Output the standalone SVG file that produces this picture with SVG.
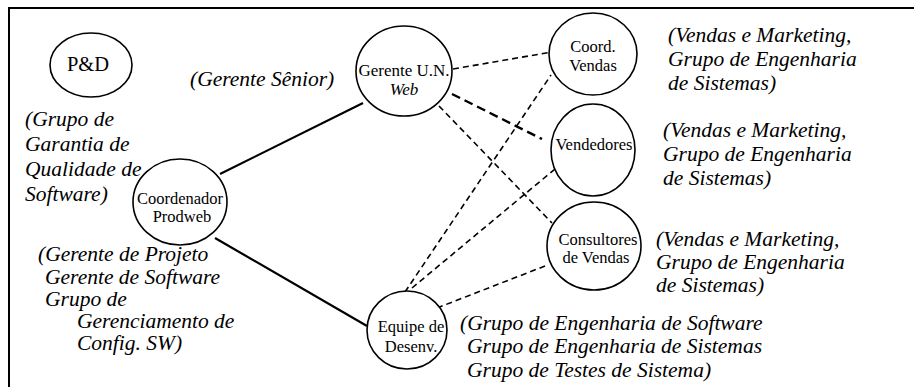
<svg xmlns="http://www.w3.org/2000/svg" width="914" height="387" viewBox="0 0 914 387">
<defs>
<style>
.node{fill:#fff;stroke:#000;stroke-width:1.6}
.solid{stroke:#000;stroke-width:2.2;fill:none}
.dash{stroke:#000;stroke-width:1.6;stroke-dasharray:6 4;fill:none}
.dash2{stroke:#000;stroke-width:2.4;stroke-dasharray:9 5;fill:none}
.lbl{font-family:"Liberation Serif",serif;font-size:16.5px;text-anchor:middle;fill:#000}
.note{font-family:"Liberation Serif",serif;font-size:21.5px;font-style:italic;fill:#000}
</style>
</defs>
<rect x="0" y="0" width="914" height="387" fill="#fff"/>
<rect x="9" y="8" width="920" height="400" fill="none" stroke="#000" stroke-width="2"/>
<g id="connectors">
<line class="solid" x1="220" y1="174" x2="363" y2="103"/>
<line class="solid" x1="215" y1="238" x2="367" y2="326"/>
<line class="dash" x1="453" y1="69" x2="552" y2="52"/>
<line class="dash2" x1="452" y1="94" x2="542" y2="139"/>
<line class="dash" x1="439" y1="106" x2="552" y2="223"/>
<line class="dash" x1="405" y1="292" x2="551" y2="75"/>
<line class="dash" x1="412" y1="288" x2="555" y2="169"/>
<line class="dash" x1="437" y1="308" x2="545" y2="266"/>
</g>
<g id="pd">
<ellipse class="node" cx="91" cy="65" rx="41" ry="32"/>
<text class="lbl" x="88" y="71" style="font-size:20.5px">P&#38;D</text>
</g>
<g id="coordenador">
<ellipse class="node" cx="180" cy="202" rx="47" ry="43"/>
<text class="lbl" x="180" y="204">Coordenador</text>
<text class="lbl" x="182" y="222">Prodweb</text>
</g>
<g id="gerente">
<ellipse class="node" cx="404" cy="71" rx="48" ry="45"/>
<text class="lbl" x="404" y="76" style="font-size:17px">Gerente U.N.</text>
<text class="lbl" x="404" y="95" style="font-size:17px;font-style:italic">Web</text>
</g>
<g id="coordvendas">
<ellipse class="node" cx="593" cy="54" rx="44" ry="41"/>
<text class="lbl" x="593" y="52">Coord.</text>
<text class="lbl" x="593" y="71">Vendas</text>
</g>
<g id="vendedores">
<ellipse class="node" cx="593" cy="150" rx="42" ry="46"/>
<text class="lbl" x="594" y="150">Vendedores</text>
</g>
<g id="consultores">
<ellipse class="node" cx="594" cy="246" rx="47" ry="44"/>
<text class="lbl" x="598" y="245">Consultores</text>
<text class="lbl" x="596" y="263">de Vendas</text>
</g>
<g id="equipe">
<ellipse class="node" cx="407" cy="330" rx="40" ry="39"/>
<text class="lbl" x="411" y="332">Equipe de</text>
<text class="lbl" x="411" y="352">Desenv.</text>
</g>
<g id="notes">
<text class="note" x="190" y="86">(Gerente S&#234;nior)</text>
<text class="note" x="25" y="126">(Grupo de</text>
<text class="note" x="25" y="151">Garantia de</text>
<text class="note" x="25" y="176">Qualidade de</text>
<text class="note" x="25" y="201">Software)</text>
<text class="note" x="38" y="261">(Gerente de Projeto</text>
<text class="note" x="45" y="284">Gerente de Software</text>
<text class="note" x="45" y="306">Grupo de</text>
<text class="note" x="77" y="328">Gerenciamento de</text>
<text class="note" x="77" y="350">Config. SW)</text>
<text class="note" x="668" y="42">(Vendas e Marketing,</text>
<text class="note" x="668" y="66">Grupo de Engenharia</text>
<text class="note" x="668" y="90">de Sistemas)</text>
<text class="note" x="663" y="137">(Vendas e Marketing,</text>
<text class="note" x="663" y="161">Grupo de Engenharia</text>
<text class="note" x="663" y="185">de Sistemas)</text>
<text class="note" x="656" y="246">(Vendas e Marketing,</text>
<text class="note" x="656" y="269">Grupo de Engenharia</text>
<text class="note" x="656" y="292">de Sistemas)</text>
<text class="note" x="460" y="330">(Grupo de Engenharia de Software</text>
<text class="note" x="467" y="353">Grupo de Engenharia de Sistemas</text>
<text class="note" x="467" y="377">Grupo de Testes de Sistema)</text>
</g>
</svg>
